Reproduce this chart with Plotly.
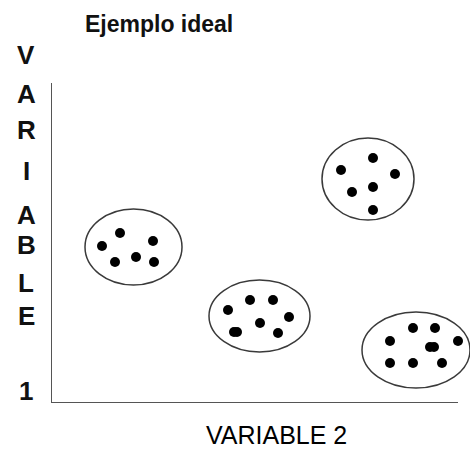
import plotly.graph_objects as go

# ---- data (chart units) ----
c1_x = [5.1, 6.9, 10.2, 6.4, 8.5, 10.3]
c1_y = [15.7, 17.0, 16.2, 14.1, 14.6, 14.1]
c2_x = [17.7, 19.9, 22.2, 23.8, 20.9, 18.3, 18.6, 22.7]
c2_y = [9.3, 10.3, 10.3, 8.6, 8.0, 7.1, 7.1, 7.0]
c3_x = [32.2, 29.0, 34.4, 32.2, 30.1, 32.2]
c3_y = [24.5, 23.3, 22.9, 21.6, 21.1, 19.3]
c4_x = [36.2, 38.4, 33.9, 40.7, 37.9, 38.3, 33.9, 36.2, 39.1]
c4_y = [7.5, 7.5, 6.2, 6.2, 5.6, 5.6, 4.0, 4.0, 4.0]

ell_cx = [8.25, 20.85, 31.7, 36.5]
ell_cy = [15.6, 8.7, 22.4, 5.3]
ell_rx = [4.85, 5.05, 4.6, 5.4]
ell_ry = [3.8, 3.6, 4.1, 3.8]

x_axis_end = 40.7
y_label_letters = ["V", "A", "R", "I", "A", "B", "L", "E", "1"]
title_text = "Ejemplo ideal"
x_label = "VARIABLE 2"

# ---- layout geometry ----
W, H = 470, 449
ML, MR, MT, MB = 51, 0, 83, 46
PW, PH = W - ML - MR, H - MT - MB


def px(x):
    return (x - ML) / PW


def py(y):
    return (H - MB - y) / PH


fig = go.Figure()
for xs, ys in [(c1_x, c1_y), (c2_x, c2_y), (c3_x, c3_y), (c4_x, c4_y)]:
    fig.add_trace(go.Scatter(x=xs, y=ys, mode="markers",
                             marker=dict(color="black", size=10),
                             showlegend=False, hoverinfo="skip"))

shapes = []
for cx, cy, rx, ry in zip(ell_cx, ell_cy, ell_rx, ell_ry):
    shapes.append(dict(type="circle", xref="x", yref="y",
                       x0=cx - rx, x1=cx + rx, y0=cy - ry, y1=cy + ry,
                       line=dict(color="#3a3a3a", width=1.5), layer="below"))
shapes.append(dict(type="line", xref="x", yref="y", x0=0, x1=x_axis_end, y0=0, y1=0,
                   line=dict(color="#555555", width=2)))
shapes.append(dict(type="line", xref="x", yref="paper", x0=0, x1=0, y0=0, y1=1,
                   line=dict(color="#555555", width=2)))

font_fam = "Liberation Sans, Arial, sans-serif"
annotations = [
    dict(text="<b>" + title_text + "</b>", x=px(83), y=py(24), xref="paper", yref="paper",
         xanchor="left", yanchor="middle", showarrow=False,
         font=dict(family=font_fam, size=23, color="#111111")),
    dict(text=x_label, x=px(276), y=py(435), xref="paper", yref="paper",
         xanchor="center", yanchor="middle", showarrow=False,
         font=dict(family=font_fam, size=25, color="#000000")),
]
letter_y = [55, 94, 130, 171, 215, 245, 283, 316, 391]
for ch, ly in zip(y_label_letters, letter_y):
    annotations.append(dict(text="<b>" + ch + "</b>", x=px(26), y=py(ly),
                            xref="paper", yref="paper",
                            xanchor="center", yanchor="middle", showarrow=False,
                            font=dict(family=font_fam, size=26, color="#111111")))

fig.update_layout(
    width=W, height=H,
    margin=dict(l=ML, r=MR, t=MT, b=MB, pad=0),
    paper_bgcolor="white", plot_bgcolor="white",
    xaxis=dict(range=[0, 41.9], visible=False, fixedrange=True),
    yaxis=dict(range=[0, 32.0], visible=False, fixedrange=True),
    shapes=shapes, annotations=annotations,
)

fig.write_html("out.html", config={"displayModeBar": False},
               post_script="document.body.style.margin='0';document.body.style.overflow='hidden';")
